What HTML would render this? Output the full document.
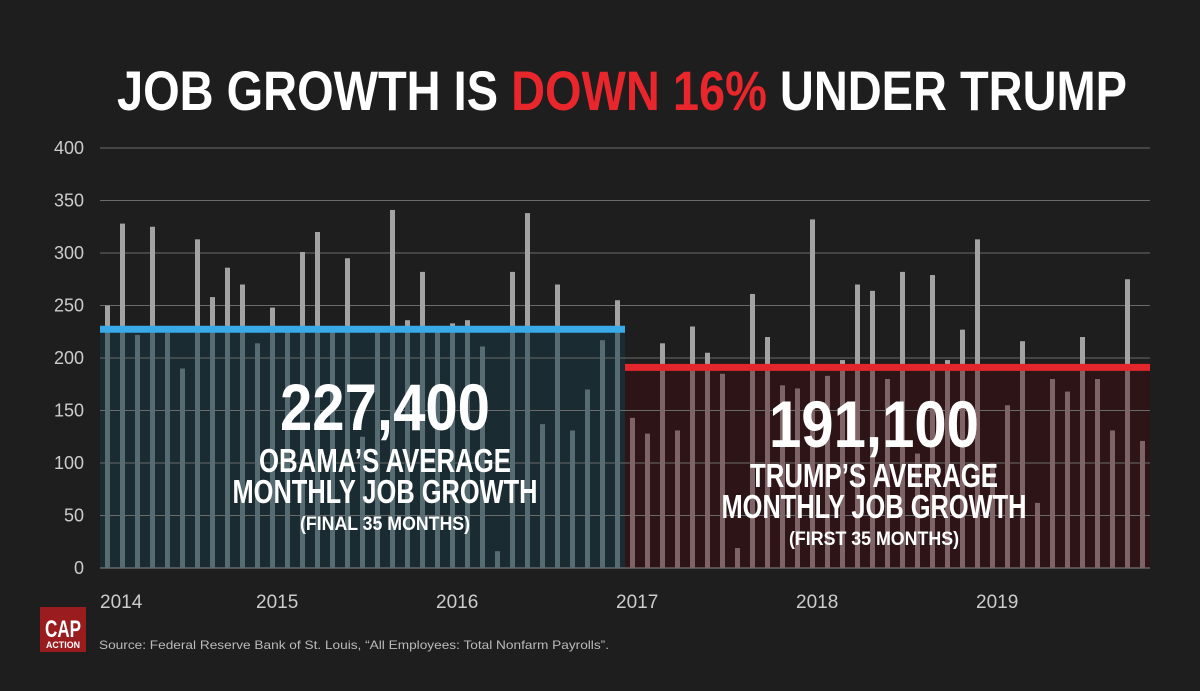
<!DOCTYPE html>
<html><head><meta charset="utf-8"><style>
html,body{margin:0;padding:0;background:#1e1e1e;}
svg{display:block;}
text{font-family:"Liberation Sans Narrow","Liberation Sans",sans-serif;}
</style></head><body>
<svg id="chart" width="1200" height="691" viewBox="0 0 1200 691" xmlns="http://www.w3.org/2000/svg">
<rect width="1200" height="691" fill="#1e1e1e"/>
<text x="117" y="110" font-size="56" font-weight="bold" fill="#fff" textLength="1010" lengthAdjust="spacingAndGlyphs">JOB GROWTH IS <tspan fill="#e8262b">DOWN 16%</tspan> UNDER TRUMP</text>
<g id="shade"></g>
<g id="grid"></g>
<g id="bars"></g>
<g id="avg"></g>
<g fill="#fff" font-weight="bold" text-anchor="middle">
<text x="385" y="430" font-size="66" textLength="210" lengthAdjust="spacingAndGlyphs">227,400</text>
<text x="385" y="472" font-size="33" textLength="252" lengthAdjust="spacingAndGlyphs">OBAMA’S AVERAGE</text>
<text x="385" y="503" font-size="33" textLength="305" lengthAdjust="spacingAndGlyphs">MONTHLY JOB GROWTH</text>
<text x="385" y="530" font-size="19" textLength="170" lengthAdjust="spacingAndGlyphs">(FINAL 35 MONTHS)</text>
</g>
<g fill="#fff" font-weight="bold" text-anchor="middle">
<text x="874" y="447" font-size="66" textLength="210" lengthAdjust="spacingAndGlyphs">191,100</text>
<text x="874" y="487" font-size="33" textLength="248" lengthAdjust="spacingAndGlyphs">TRUMP’S AVERAGE</text>
<text x="874" y="518" font-size="33" textLength="305" lengthAdjust="spacingAndGlyphs">MONTHLY JOB GROWTH</text>
<text x="874" y="545" font-size="19" textLength="170" lengthAdjust="spacingAndGlyphs">(FIRST 35 MONTHS)</text>
</g>
<g id="yticks"></g>
<g id="xticks"></g>
<g>
<rect x="40" y="607" width="46" height="45" fill="#9b1c1f"/>
<text x="63" y="637" font-size="24" font-weight="bold" fill="#fff" text-anchor="middle" textLength="36" lengthAdjust="spacingAndGlyphs">CAP</text>
<text x="63" y="648" font-size="9" font-weight="bold" fill="#fff" text-anchor="middle" textLength="34" lengthAdjust="spacingAndGlyphs">ACTION</text>
</g>
<text x="99" y="649" font-family="Liberation Sans" font-size="12" fill="#bbb" textLength="510" lengthAdjust="spacingAndGlyphs">Source: Federal Reserve Bank of St. Louis, “All Employees: Total Nonfarm Payrolls”.</text>
</svg>
<script>
const obamaValues=[250,328,222,325,224,190,313,258,286,270,214,248,225,301,320,226,295,125,228,341,236,282,226,233,236,211,16,282,338,137,270,131,170,217,255];
const trumpValues=[143,128,214,131,230,205,185,19,261,220,174,171,332,183,198,270,264,180,282,109,279,198,227,313,100,155,216,62,180,168,220,180,131,275,121];
const averages=[227.4,191.1];
const yTicks=[0,50,100,150,200,250,300,350,400];
const xYears=["2014","2015","2016","2017","2018","2019"];
const xYearIndex=[0,10.5,22.5,34.5,46.5,58.5];

const NS="http://www.w3.org/2000/svg";
const X0=100,X1=1150,Y0=568,YMAX=400,PXU=420/400;
const all=obamaValues.concat(trumpValues);
const band=(X1-X0)/all.length;
function xs(i){return X0+band*(i+0.5);}
function ys(v){return Y0-v*PXU;}
function mk(tag,attrs,parent){const e=document.createElementNS(NS,tag);for(const k in attrs)e.setAttribute(k,attrs[k]);parent.appendChild(e);return e;}
const split=X0+band*obamaValues.length;

const shade=document.getElementById('shade');
let r=mk('rect',{x:X0,y:ys(averages[0]),width:split-X0,height:Y0-ys(averages[0]),fill:'#1a2b31'},shade);


r=mk('rect',{x:split,y:ys(averages[1]),width:X1-split,height:Y0-ys(averages[1]),fill:'#2d1517'},shade);



const grid=document.getElementById('grid'),yt=document.getElementById('yticks');
yTicks.forEach(t=>{
  const l=mk('line',{x1:X0,x2:X1,y1:ys(t),y2:ys(t),stroke:t===0?'#888':'#6a6a6a','stroke-width':1},grid);
  
  
  const tx=mk('text',{x:84,y:ys(t)+6,'font-size':18,fill:'#ccc','text-anchor':'end'},yt);
  tx.textContent=t;
  
  
});

const bars=document.getElementById('bars');
all.forEach((v,i)=>{
  const x=xs(i)-2.5,obama=i<obamaValues.length,avg=obama?averages[0]:averages[1];
  const inCol=obama?'#566c72':'#7e6466';
  const lo=Math.min(v,avg);
  let b=mk('rect',{x:x,y:ys(lo),width:5,height:Y0-ys(lo),fill:inCol},bars);
  
  
  if(v>avg){
    const t=mk('rect',{x:x,y:ys(v),width:5,height:ys(avg)-ys(v),fill:'#a3a3a3'},bars);
    
    
  }
});

const avgG=document.getElementById('avg');
let a=mk('line',{x1:X0,x2:split,y1:ys(averages[0]),y2:ys(averages[0]),stroke:'#3aa9e8','stroke-width':7},avgG);


a=mk('line',{x1:split,x2:X1,y1:ys(averages[1]),y2:ys(averages[1]),stroke:'#e3262b','stroke-width':7},avgG);



const xt=document.getElementById('xticks');
xYears.forEach((y,k)=>{
  const x=k===0?X0:xs(xYearIndex[k])-9;
  const t=mk('text',{x:x,y:608,'font-size':19,fill:'#ccc'},xt);
  t.textContent=y;
  
  
});
</script>
</body></html>
